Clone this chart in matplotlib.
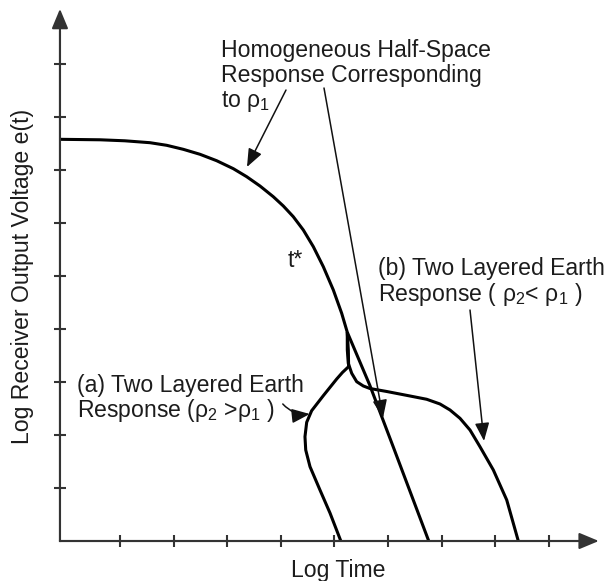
import matplotlib
matplotlib.use("Agg")
import matplotlib.pyplot as plt

plt.rcParams["font.family"] = ["Liberation Sans", "DejaVu Sans"]
plt.rcParams["mathtext.fontset"] = "custom"
plt.rcParams["mathtext.rm"] = "Liberation Sans"
plt.rcParams["mathtext.it"] = "Liberation Sans:italic"
plt.rcParams["mathtext.default"] = "regular"

# Homogeneous half-space response (log time, log voltage)
half_t = [-0.12, 0.63, 1.09, 1.56, 1.871, 2.181, 2.493, 2.804, 3.114, 3.363,
          3.612, 3.860, 4.047, 4.233, 4.420, 4.607, 4.793, 4.980, 5.136,
          5.24, 5.66, 6.10, 6.76]
half_e = [7.579, 7.570, 7.551, 7.515, 7.466, 7.390, 7.296, 7.175, 7.025, 6.874,
          6.698, 6.496, 6.321, 6.119, 5.868, 5.553, 5.176, 4.736, 4.296,
          3.94, 2.94, 1.77, 0.0]

# (a) two-layered earth, rho2 > rho1
a_t = [5.24, 5.26, 5.265, 5.15, 5.043, 4.793, 4.576, 4.483, 4.451, 4.465,
       4.545, 4.731, 4.918, 5.12]
a_e = [3.94, 3.60, 3.29, 3.18, 3.057, 2.742, 2.459, 2.240, 1.968, 1.717,
       1.402, 0.962, 0.528, 0.0]

# (b) two-layered earth, rho2 < rho1
b_t = [5.24, 5.241, 5.259, 5.323, 5.416, 5.539, 5.664, 5.976, 6.410, 6.722,
       6.970, 7.157, 7.343, 7.530, 7.716, 7.965, 8.215, 8.431]
b_e = [3.94, 3.604, 3.353, 3.164, 3.006, 2.925, 2.877, 2.821, 2.736, 2.674,
       2.585, 2.472, 2.315, 2.094, 1.779, 1.340, 0.774, 0.0]

x_ticks = [1, 2, 3, 4, 5, 6, 7, 8, 9]
y_ticks = [1, 2, 3, 4, 5, 6, 7, 8, 9]

FS = 16.6
TXT = "#1c1c1c"
AXC = "#333333"

fig = plt.figure(figsize=(6.09, 5.81), dpi=100)
ax = fig.add_axes([0, 0, 1, 1])
ax.set_xlim(-1.2388, 10.1231)
ax.set_ylim(-0.7547, 10.2075)
ax.axis("off")

x0, y0 = -0.12, 0.0

# axes with arrowheads
axis_arrow = dict(arrowstyle="-|>,head_length=0.6,head_width=0.25",
                  color=AXC, lw=1.5, shrinkA=0, shrinkB=0, mutation_scale=20)
ax.annotate("", xy=(x0, 10.04), xytext=(x0, y0), arrowprops=axis_arrow)
ax.annotate("", xy=(9.933, y0), xytext=(x0, y0), arrowprops=axis_arrow)
ax.plot([x0, x0], [y0, 9.6], color=AXC, lw=1.5, solid_capstyle="projecting")
ax.plot([x0, 9.6], [y0, y0], color=AXC, lw=1.5, solid_capstyle="projecting")

ax.vlines(x_ticks, y0 - 0.113, y0 + 0.113, color=AXC, lw=1.5)
ax.hlines(y_ticks, x0 - 0.112, x0 + 0.112, color=AXC, lw=1.5)

# response curves
for t, e in ((half_t, half_e), (a_t, a_e), (b_t, b_e)):
    ax.plot(t, e, color="black", lw=2.2, solid_joinstyle="round",
            solid_capstyle="butt")

# labels
ax.text(5.075, -0.679, "Log Time", fontsize=FS, color=TXT,
        ha="center", va="baseline")
ax.text(-0.828, 5.0, "Log Receiver Output Voltage e(t)", fontsize=FS,
        color=TXT, rotation=90, ha="center", va="center")

ax.text(2.884, 9.132, "Homogeneous Half-Space", fontsize=FS, color=TXT,
        ha="left", va="baseline")
ax.text(2.884, 8.660, "Response Corresponding", fontsize=FS, color=TXT,
        ha="left", va="baseline")
ax.text(2.884, 8.189, r"to $\mathrm{\rho}_1$", fontsize=FS, color=TXT,
        ha="left", va="baseline")

ax.text(4.134, 5.170, "t*", fontsize=FS, color=TXT, ha="left", va="baseline")

ax.text(5.813, 5.019, "(b) Two Layered Earth", fontsize=FS, color=TXT,
        ha="left", va="baseline")
ax.text(5.813, 4.528, r"Response ( $\mathrm{\rho}_2$< $\mathrm{\rho}_1$ )",
        fontsize=FS, color=TXT, ha="left", va="baseline")

ax.text(0.198, 2.811, "(a) Two Layered Earth", fontsize=FS, color=TXT,
        ha="left", va="baseline")
ax.text(0.198, 2.340, r"Response ($\mathrm{\rho}_2$ >$\mathrm{\rho}_1$ )",
        fontsize=FS, color=TXT, ha="left", va="baseline")

# pointer arrows
ptr = dict(arrowstyle="-|>,head_length=0.55,head_width=0.22",
           color="#111111", lw=1.1, shrinkA=0, shrinkB=0, mutation_scale=20)
ax.annotate("", xy=(3.369, 7.057), xytext=(4.097, 8.509), arrowprops=ptr)
ax.annotate("", xy=(5.907, 2.321), xytext=(4.806, 8.547), arrowprops=ptr)
ax.annotate("", xy=(7.791, 1.887), xytext=(7.530, 4.358), arrowprops=ptr)
ax.annotate("", xy=(4.541, 2.396), xytext=(4.037, 2.585),
            arrowprops=dict(ptr, connectionstyle="arc3,rad=0.25"))

fig.savefig("out.png", dpi=100)
